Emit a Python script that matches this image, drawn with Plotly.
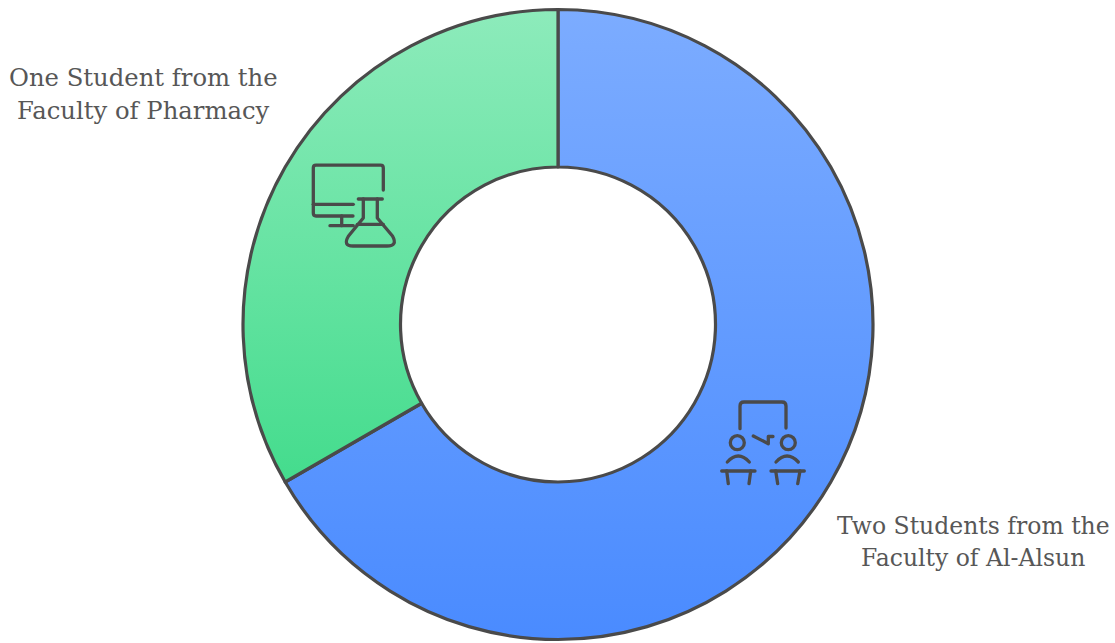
import plotly.graph_objects as go

WIDTH, HEIGHT = 1115, 643

# Share of students by faculty
labels = ["Two Students from the Faculty of Al-Alsun", "One Student from the Faculty of Pharmacy"]
students = [2, 1]
label_lines = [["Two Students from the", "Faculty of Al-Alsun"], ["One Student from the", "Faculty of Pharmacy"]]
label_centres = [(973.5, 526, 558), (143, 78, 110)]  # x, first line y, second line y
label_sizes = [23.5, 24.3]

INK = "#4a4a4a"
TEXT = "#575757"
# Gradient id, top colour, bottom colour, top y, bottom y of each slice
gradients = {
    "gradBlue": ("#7cacff", "#4a8bff", 9, 640),
    "gradGreen": ("#8debbb", "#44dc8d", 9, 482),
}
slice_gradients = ["gradBlue", "gradGreen"]

# Donut placement in pixels
CX, CY, R = 558, 324.5, 315


def px(x):
    return x / WIDTH


def py(y):
    return 1 - y / HEIGHT


def path(points):
    """Stroke path from a command list, given in pixels from the top-left corner."""
    out = []
    for cmd, *coords in points:
        pairs = [f"{px(coords[i]):.5f},{py(coords[i + 1]):.5f}" for i in range(0, len(coords), 2)]
        out.append(cmd + " ".join(pairs))
    return " ".join(out)


def polyline(*pts):
    return [("M", *pts[0])] + [("L", *p) for p in pts[1:]]


def circle(cx, cy, r):
    k = 0.5523 * r
    return [
        ("M", cx + r, cy),
        ("C", cx + r, cy + k, cx + k, cy + r, cx, cy + r),
        ("C", cx - k, cy + r, cx - r, cy + k, cx - r, cy),
        ("C", cx - r, cy - k, cx - k, cy - r, cx, cy - r),
        ("C", cx + k, cy - r, cx + r, cy - k, cx + r, cy),
        ("Z",),
    ]


icon_paths = [
    # Monitor
    [("M", 383.3, 190), ("L", 383.3, 168), ("Q", 383.3, 165.2, 380.5, 165.2), ("L", 316, 165.2),
     ("Q", 313.3, 165.2, 313.3, 168), ("L", 313.3, 213), ("Q", 313.3, 216, 316, 216), ("L", 353, 216)],
    polyline((313.3, 204.3), (353.3, 204.3)),
    polyline((341.7, 216), (341.7, 225.7)),
    polyline((330, 225.7), (353.3, 225.7)),
    # Flask
    polyline((358.3, 199), (382.3, 199)),
    [("M", 363.3, 199), ("L", 363.3, 218), ("L", 348.5, 236), ("Q", 342.5, 246, 353, 246),
     ("L", 387, 246), ("Q", 398, 246, 392.5, 236), ("L", 377.3, 218), ("L", 377.3, 199)],
    polyline((357.3, 224.3), (383.3, 224.3)),
    # Shared frame above the two students
    [("M", 740, 428.7), ("L", 740, 406), ("Q", 740, 402, 744, 402), ("L", 782, 402),
     ("Q", 786, 402, 786, 406), ("L", 786, 428)],
    # Heads
    circle(737.3, 442.7, 7),
    circle(788.3, 442.7, 7),
    # Exchange arrow
    polyline((753.3, 436), (768.3, 443.7), (768.3, 436.5), (773, 436.5)),
    # Shoulders
    [("M", 727.3, 462), ("Q", 738.3, 450, 749.3, 462)],
    [("M", 776, 462), ("Q", 787, 450, 798.3, 462)],
    # Desks
    polyline((721.7, 471), (755, 471)),
    polyline((726.7, 471), (728.3, 483.7)),
    polyline((750.7, 471), (749, 483.7)),
    polyline((771, 471), (804.3, 471)),
    polyline((775.7, 471), (777.7, 483.7)),
    polyline((800, 471), (797.7, 483.7)),
]

fig = go.Figure(
    go.Pie(
        labels=labels,
        values=students,
        hole=0.5,
        sort=False,
        direction="clockwise",
        rotation=0,
        textinfo="none",
        hoverinfo="skip",
        marker=dict(colors=["#5f9bff", "#66e3a3"], line=dict(color=INK, width=3.2)),
        domain=dict(
            x=[(CX - R) / WIDTH, (CX + R) / WIDTH],
            y=[1 - (CY + R) / HEIGHT, 1 - (CY - R) / HEIGHT],
        ),
        showlegend=False,
    )
)

for p in icon_paths:
    fig.add_shape(type="path", xref="paper", yref="paper", path=path(p),
                  line=dict(color=INK, width=3.3), fillcolor="rgba(0,0,0,0)")

for lines, (x, y1, y2), size in zip(label_lines, label_centres, label_sizes):
    for line, y in zip(lines, (y1, y2)):
        fig.add_annotation(text=line, xref="paper", yref="paper", x=px(x), y=py(y),
                           xanchor="center", yanchor="middle", showarrow=False,
                           font=dict(family="DejaVu Serif", size=size, color=TEXT))

fig.update_layout(
    width=WIDTH,
    height=HEIGHT,
    margin=dict(l=0, r=0, t=0, b=0),
    paper_bgcolor="white",
    plot_bgcolor="white",
)

# Vertical gradient fills for the slices and rounded stroke ends for the icons
stops = ",".join(f'["{k}","{a}","{b}",{t},{u}]' for k, (a, b, t, u) in gradients.items())
slice_ids = ",".join(f'"{g}"' for g in slice_gradients)
post = """
var svg = document.querySelector('.main-svg');
var ns = 'http://www.w3.org/2000/svg';
var defs = document.createElementNS(ns, 'defs');
[%s].forEach(function (g) {
  var lg = document.createElementNS(ns, 'linearGradient');
  lg.setAttribute('id', g[0]);
  lg.setAttribute('gradientUnits', 'userSpaceOnUse');
  lg.setAttribute('x1', '0'); lg.setAttribute('x2', '0');
  lg.setAttribute('y1', g[3]);
  lg.setAttribute('y2', g[4]);
  [[0, g[1]], [1, g[2]]].forEach(function (s) {
    var st = document.createElementNS(ns, 'stop');
    st.setAttribute('offset', s[0]);
    st.setAttribute('stop-color', s[1]);
    lg.appendChild(st);
  });
  defs.appendChild(lg);
});
svg.insertBefore(defs, svg.firstChild);
var ids = [%s];
document.querySelectorAll('.slice path.surface').forEach(function (p, i) {
  p.style.fill = 'url(#' + ids[i] + ')';
});
document.querySelectorAll('.shapelayer path').forEach(function (p) {
  p.style.strokeLinecap = 'round';
  p.style.strokeLinejoin = 'round';
});
""" % (stops, slice_ids)

fig.write_html("out.html", post_script=post)
